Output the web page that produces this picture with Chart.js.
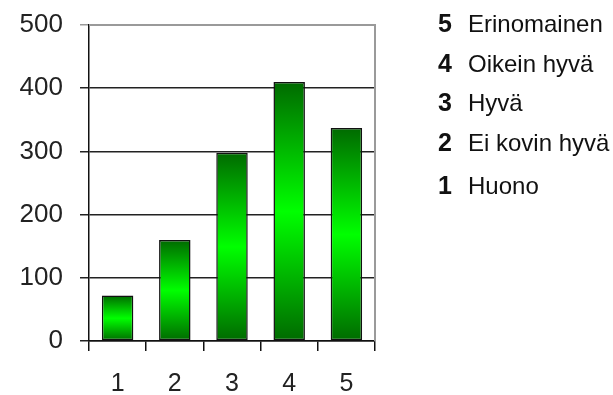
<!DOCTYPE html>
<html>
<head>
<meta charset="utf-8">
<script src="https://cdn.jsdelivr.net/npm/chart.js@4/dist/chart.umd.min.js"></script>
<style>
  html, body { margin: 0; padding: 0; background: #fff; }
  #wrap { position: relative; width: 613px; height: 395px; overflow: hidden; }
  canvas { position: absolute; left: 0; top: 0; }
  .leg { position: absolute; left: 438px; font-family: "Liberation Sans", Arial, sans-serif; font-size: 24px; color: #111; white-space: nowrap; line-height: 28px; }
  .leg b { font-size: 25px; display: inline-block; width: 30px; }
</style>
</head>
<body>
<div id="wrap">
  <canvas id="c" width="613" height="395"></canvas>
  <div id="legend"></div>
</div>
<script>
const categories = ["1", "2", "3", "4", "5"];
const values = [72, 160, 298, 410, 337];
const yTicks = [0, 100, 200, 300, 400, 500];
const legendNumbers = ["5", "4", "3", "2", "1"];
const legendLabels = ["Erinomainen", "Oikein hyvä", "Hyvä", "Ei kovin hyvä", "Huono"];

const legendTops = [9, 49, 88, 128, 171];
const legendEl = document.getElementById('legend');
legendNumbers.forEach((n, i) => {
  const d = document.createElement('div');
  d.className = 'leg';
  d.style.top = legendTops[i] + 'px';
  d.innerHTML = '<b>' + n + '</b>' + legendLabels[i];
  legendEl.appendChild(d);
});

const borderPlugin = {
  id: 'plotBorder',
  beforeDatasetsDraw(chart) {
    const a = chart.chartArea, ctx = chart.ctx;
    ctx.save();
    ctx.strokeStyle = '#9a9a9a';
    ctx.lineWidth = 2;
    ctx.beginPath();
    ctx.moveTo(a.left, a.top);
    ctx.lineTo(a.right, a.top);
    ctx.lineTo(a.right, a.bottom);
    ctx.stroke();
    ctx.restore();
  }
};

function barGradient(ctx) {
  const chart = ctx.chart;
  const y = chart.scales.y;
  if (!y || !chart.chartArea || ctx.dataIndex === undefined) return '#00c000';
  const top = y.getPixelForValue(values[ctx.dataIndex]);
  const bot = y.getPixelForValue(0);
  if (!isFinite(top) || !isFinite(bot)) return '#00c000';
  const g = chart.ctx.createLinearGradient(0, top, 0, bot);
  g.addColorStop(0, '#006a00');
  g.addColorStop(0.5, '#00ff00');
  g.addColorStop(1, '#006a00');
  return g;
}

new Chart(document.getElementById('c'), {
  type: 'bar',
  data: {
    labels: categories,
    datasets: [{
      data: values,
      backgroundColor: barGradient,
      borderColor: '#111',
      borderWidth: 1.5,
      borderSkipped: false,
      barPercentage: 0.55,
      categoryPercentage: 1
    }]
  },
  options: {
    responsive: false,
    animation: false,
    layout: { padding: { left: 0, right: 238, top: 25, bottom: 0 } },
    plugins: { legend: { display: false }, tooltip: { enabled: false } },
    scales: {
      x: {
        grid: { drawOnChartArea: false, drawTicks: true, tickLength: 10, color: '#111', lineWidth: 1.5 },
        border: { display: true, color: '#111', width: 1.5 },
        ticks: { color: '#222', font: { family: 'Liberation Sans', size: 25 }, padding: 18 },
        afterFit(s) { s.height = 54; }
      },
      y: {
        min: 0, max: 500,
        afterBuildTicks(s) { s.ticks = yTicks.map(v => ({ value: v })); },
        grid: {
          color: (c) => (c.tick && c.tick.value === 500) ? '#9a9a9a' : '#222',
          lineWidth: 1.5, tickLength: 9, drawTicks: true
        },
        border: { display: true, color: '#111', width: 1.5 },
        ticks: { color: '#222', font: { family: 'Liberation Sans', size: 26 }, padding: 17 },
        afterFit(s) { s.width = 89; s.paddingTop = 0; s.paddingBottom = 0; }
      }
    }
  },
  plugins: [borderPlugin]
});
</script>
</body>
</html>
